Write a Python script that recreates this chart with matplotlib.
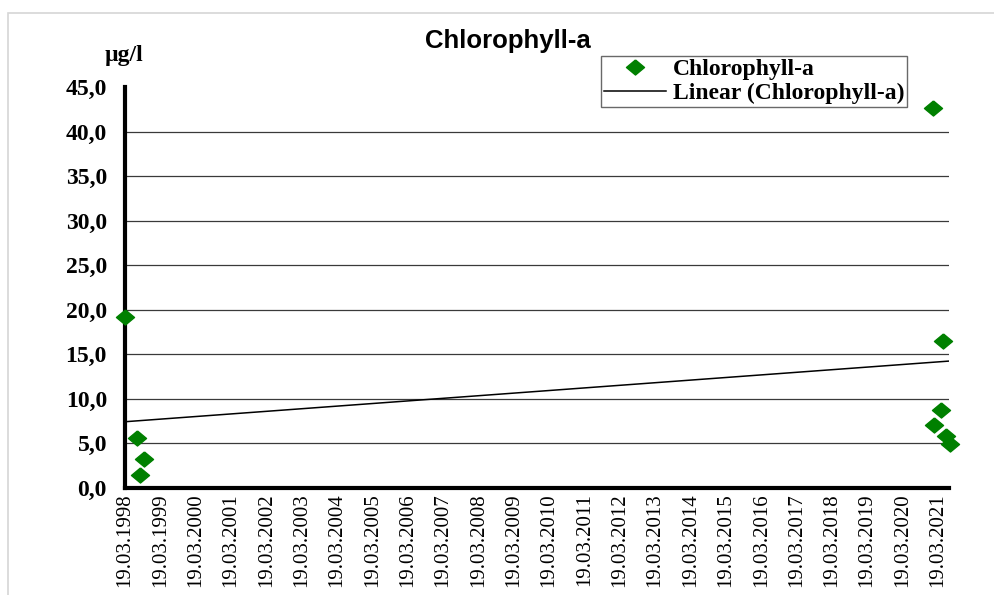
import matplotlib
matplotlib.use('Agg')
import matplotlib.pyplot as plt
import matplotlib.dates as mdates
import matplotlib.patches as patches
import numpy as np
from datetime import datetime

# sample dates and chlorophyll-a values [ug/l]
dates = ['1998-03-19', '1998-07-23', '1998-10-03', '1998-08-21',
         '2021-01-24', '2021-05-13', '2021-04-25', '2021-02-08',
         '2021-06-15', '2021-07-20']
chl = [19.2, 5.6, 3.25, 1.45, 42.6, 16.5, 8.75, 7.04, 5.87, 4.94]

tick_years = list(range(1998, 2022))
y_ticks = [0, 5, 10, 15, 20, 25, 30, 35, 40, 45]

x_start = datetime(1998, 3, 19)
x_end = datetime(2021, 7, 12)

x = mdates.date2num([datetime.strptime(d, '%Y-%m-%d') for d in dates])
y = np.array(chl)

# linear trend like the spreadsheet trendline
k, b = np.polyfit(x, y, 1)
x_fit = mdates.date2num([x_start, x_end])
y_fit = k * x_fit + b

serif = 'Liberation Serif'
diamond = [(0, 1), (1.2, 0), (0, -1), (-1.2, 0), (0, 1)]

fig = plt.figure(figsize=(9.95, 5.95), dpi=100, facecolor='white')
ax = fig.add_axes([125/995, 1 - 488/595, (949-125)/995, (488-87)/595])

# light frame around the chart area
fig.patches.append(patches.Rectangle((8/995, -0.05), 1.2, 1 - 13/595 + 0.05,
                                     transform=fig.transFigure, fill=False,
                                     edgecolor='#d6d6d6', linewidth=1.2))

for v in y_ticks[1:-1]:
    ax.axhline(v, color='#3a3a3a', linewidth=0.9, zorder=1)

ax.plot(x_fit, y_fit, color='black', linewidth=1.1, zorder=2,
        label='Linear (Chlorophyll-a)')
ax.plot(x, y, linestyle='none', marker=diamond, markersize=13,
        color='#008000', markeredgecolor='#008000', zorder=3,
        clip_on=False, label='Chlorophyll-a')

ax.set_xlim(mdates.date2num(x_start), mdates.date2num(x_end))
ax.set_ylim(0, 45)

ax.set_xticks(mdates.date2num([datetime(yr, 3, 19) for yr in tick_years]))
ax.xaxis.set_major_formatter(mdates.DateFormatter('%d.%m.%Y'))
ax.set_yticks(y_ticks)
ax.set_yticklabels([('%.1f' % v).replace('.', ',') for v in y_ticks])

for lab in ax.get_xticklabels():
    lab.set_family(serif)
    lab.set_fontsize(15)
    lab.set_rotation(90)
for lab in ax.get_yticklabels():
    lab.set_family(serif)
    lab.set_fontsize(17)
    lab.set_fontweight('bold')

ax.tick_params(axis='both', length=0)
ax.tick_params(axis='y', pad=13)
ax.tick_params(axis='x', pad=4)

for s in ['top', 'right']:
    ax.spines[s].set_visible(False)
for s in ['left', 'bottom']:
    ax.spines[s].set_linewidth(3)
    ax.spines[s].set_color('black')

fig.text(508/995, 1 - 41/595, 'Chlorophyll-a', ha='center', va='center',
         family='Liberation Sans', fontweight='bold', fontsize=18.5)
fig.text(105/995, 1 - 56/595, 'µg/l', ha='left', va='center',
         family=serif, fontweight='bold', fontsize=17)

handles, labels = ax.get_legend_handles_labels()
leg = ax.legend(handles[::-1], labels[::-1], loc='upper right',
                bbox_to_anchor=((907-125)/824, (488-56)/401),
                prop={'family': serif, 'weight': 'bold', 'size': 17},
                frameon=True, fancybox=False, edgecolor='#444444',
                handlelength=2.6, handletextpad=0.3, borderpad=0.12,
                labelspacing=0.1, borderaxespad=0)
leg.get_frame().set_linewidth(1)

fig.savefig('out.png', dpi=100)
